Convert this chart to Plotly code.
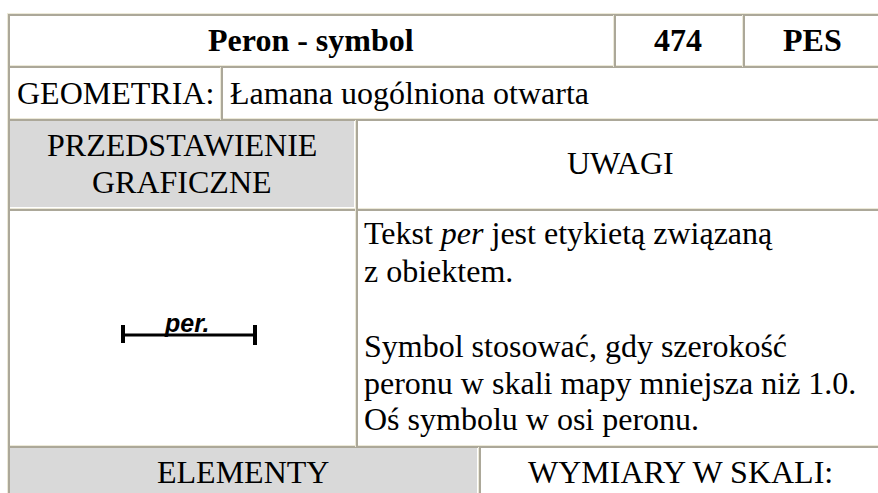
import plotly.graph_objects as go

BORDER_DARK = "#aca899"
BORDER_LIGHT = "#ece9d8"
SHADE = "#d9d9d9"
SERIF = "Liberation Serif"

shaded_x0 = [10, 10]
shaded_x1 = [354, 477]
shaded_y0 = [121, 448]
shaded_y1 = [207, 493]

h_y = [15, 67, 120, 210, 447]
h_x0 = [8, 8, 8, 8, 8]
h_x1 = [878, 878, 878, 878, 878]
v_x = [9, 222, 357, 615, 744, 480]
v_y0 = [14, 67, 120, 15, 15, 447]
v_y1 = [493, 120, 447, 67, 67, 493]

labels = ["<b>Peron - symbol</b>", "<b>474</b>", "<b>PES</b>",
          "PRZEDSTAWIENIE", "GRAFICZNE", "UWAGI", "ELEMENTY", "WYMIARY W SKALI:"]
labels_x = [311, 678, 812, 182, 182, 620, 243, 680]
labels_y = [40, 40, 40, 145, 182, 163, 472, 472]

left_labels = ["GEOMETRIA:", "Łamana uogólniona otwarta",
               "Tekst <i>per</i> jest etykietą związaną", "z obiektem.",
               "Symbol stosować, gdy szerokość",
               "peronu w skali mapy mniejsza niż 1.0.", "Oś symbolu w osi peronu."]
left_x = [15, 228, 362, 362, 362, 362, 362]
left_y = [93, 93, 233, 271, 346, 383, 419]

sym_line_x = [123, 255]
sym_line_y = [335, 335]
sym_tick_left_x = [123, 123]
sym_tick_left_y = [325, 343]
sym_tick_right_x = [255, 255]
sym_tick_right_y = [325, 345]
sym_text = "<b><i>per.</i></b>"

fig = go.Figure()
shapes = []
for a, b, c, d in zip(shaded_x0, shaded_x1, shaded_y0, shaded_y1):
    shapes.append(dict(type="rect", x0=a, x1=b, y0=c, y1=d, fillcolor=SHADE, line_width=0, layer="below"))
for y, a, b in zip(h_y, h_x0, h_x1):
    shapes.append(dict(type="line", x0=a - 1, x1=b, y0=y - 1.5, y1=y - 1.5, line=dict(color=BORDER_LIGHT, width=1)))
    shapes.append(dict(type="line", x0=a, x1=b, y0=y, y1=y, line=dict(color=BORDER_DARK, width=2)))
for x, a, b in zip(v_x, v_y0, v_y1):
    shapes.append(dict(type="line", x0=x - 1.5, x1=x - 1.5, y0=a, y1=b, line=dict(color=BORDER_LIGHT, width=1)))
    shapes.append(dict(type="line", x0=x, x1=x, y0=a, y1=b, line=dict(color=BORDER_DARK, width=2)))

for xs, ys, w in [(sym_line_x, sym_line_y, 3), (sym_tick_left_x, sym_tick_left_y, 4), (sym_tick_right_x, sym_tick_right_y, 4)]:
    fig.add_trace(go.Scatter(x=xs, y=ys, mode="lines", line=dict(color="#000000", width=w), hoverinfo="skip", showlegend=False))

ann = []
for t, x, y in zip(labels, labels_x, labels_y):
    ann.append(dict(x=x, y=y, text=t, xanchor="center", yanchor="middle", showarrow=False,
                    font=dict(family=SERIF, size=32, color="#000000")))
for t, x, y in zip(left_labels, left_x, left_y):
    ann.append(dict(x=x, y=y, text=t, xanchor="left", yanchor="middle", showarrow=False,
                    font=dict(family=SERIF, size=32, color="#000000")))
ann.append(dict(x=186, y=323, text=sym_text, xanchor="center", yanchor="middle", showarrow=False,
                font=dict(family="Liberation Sans", size=25, color="#000000")))

fig.update_layout(
    width=878, height=493, margin=dict(l=0, r=0, t=0, b=0),
    paper_bgcolor="#ffffff", plot_bgcolor="#ffffff", showlegend=False,
    xaxis=dict(range=[0, 878], visible=False, fixedrange=True),
    yaxis=dict(range=[493, 0], visible=False, fixedrange=True),
    shapes=shapes, annotations=ann,
)
fig.write_html("out.html", config={"displayModeBar": False},
               post_script="document.body.style.margin='0';document.documentElement.style.overflow='hidden';")
